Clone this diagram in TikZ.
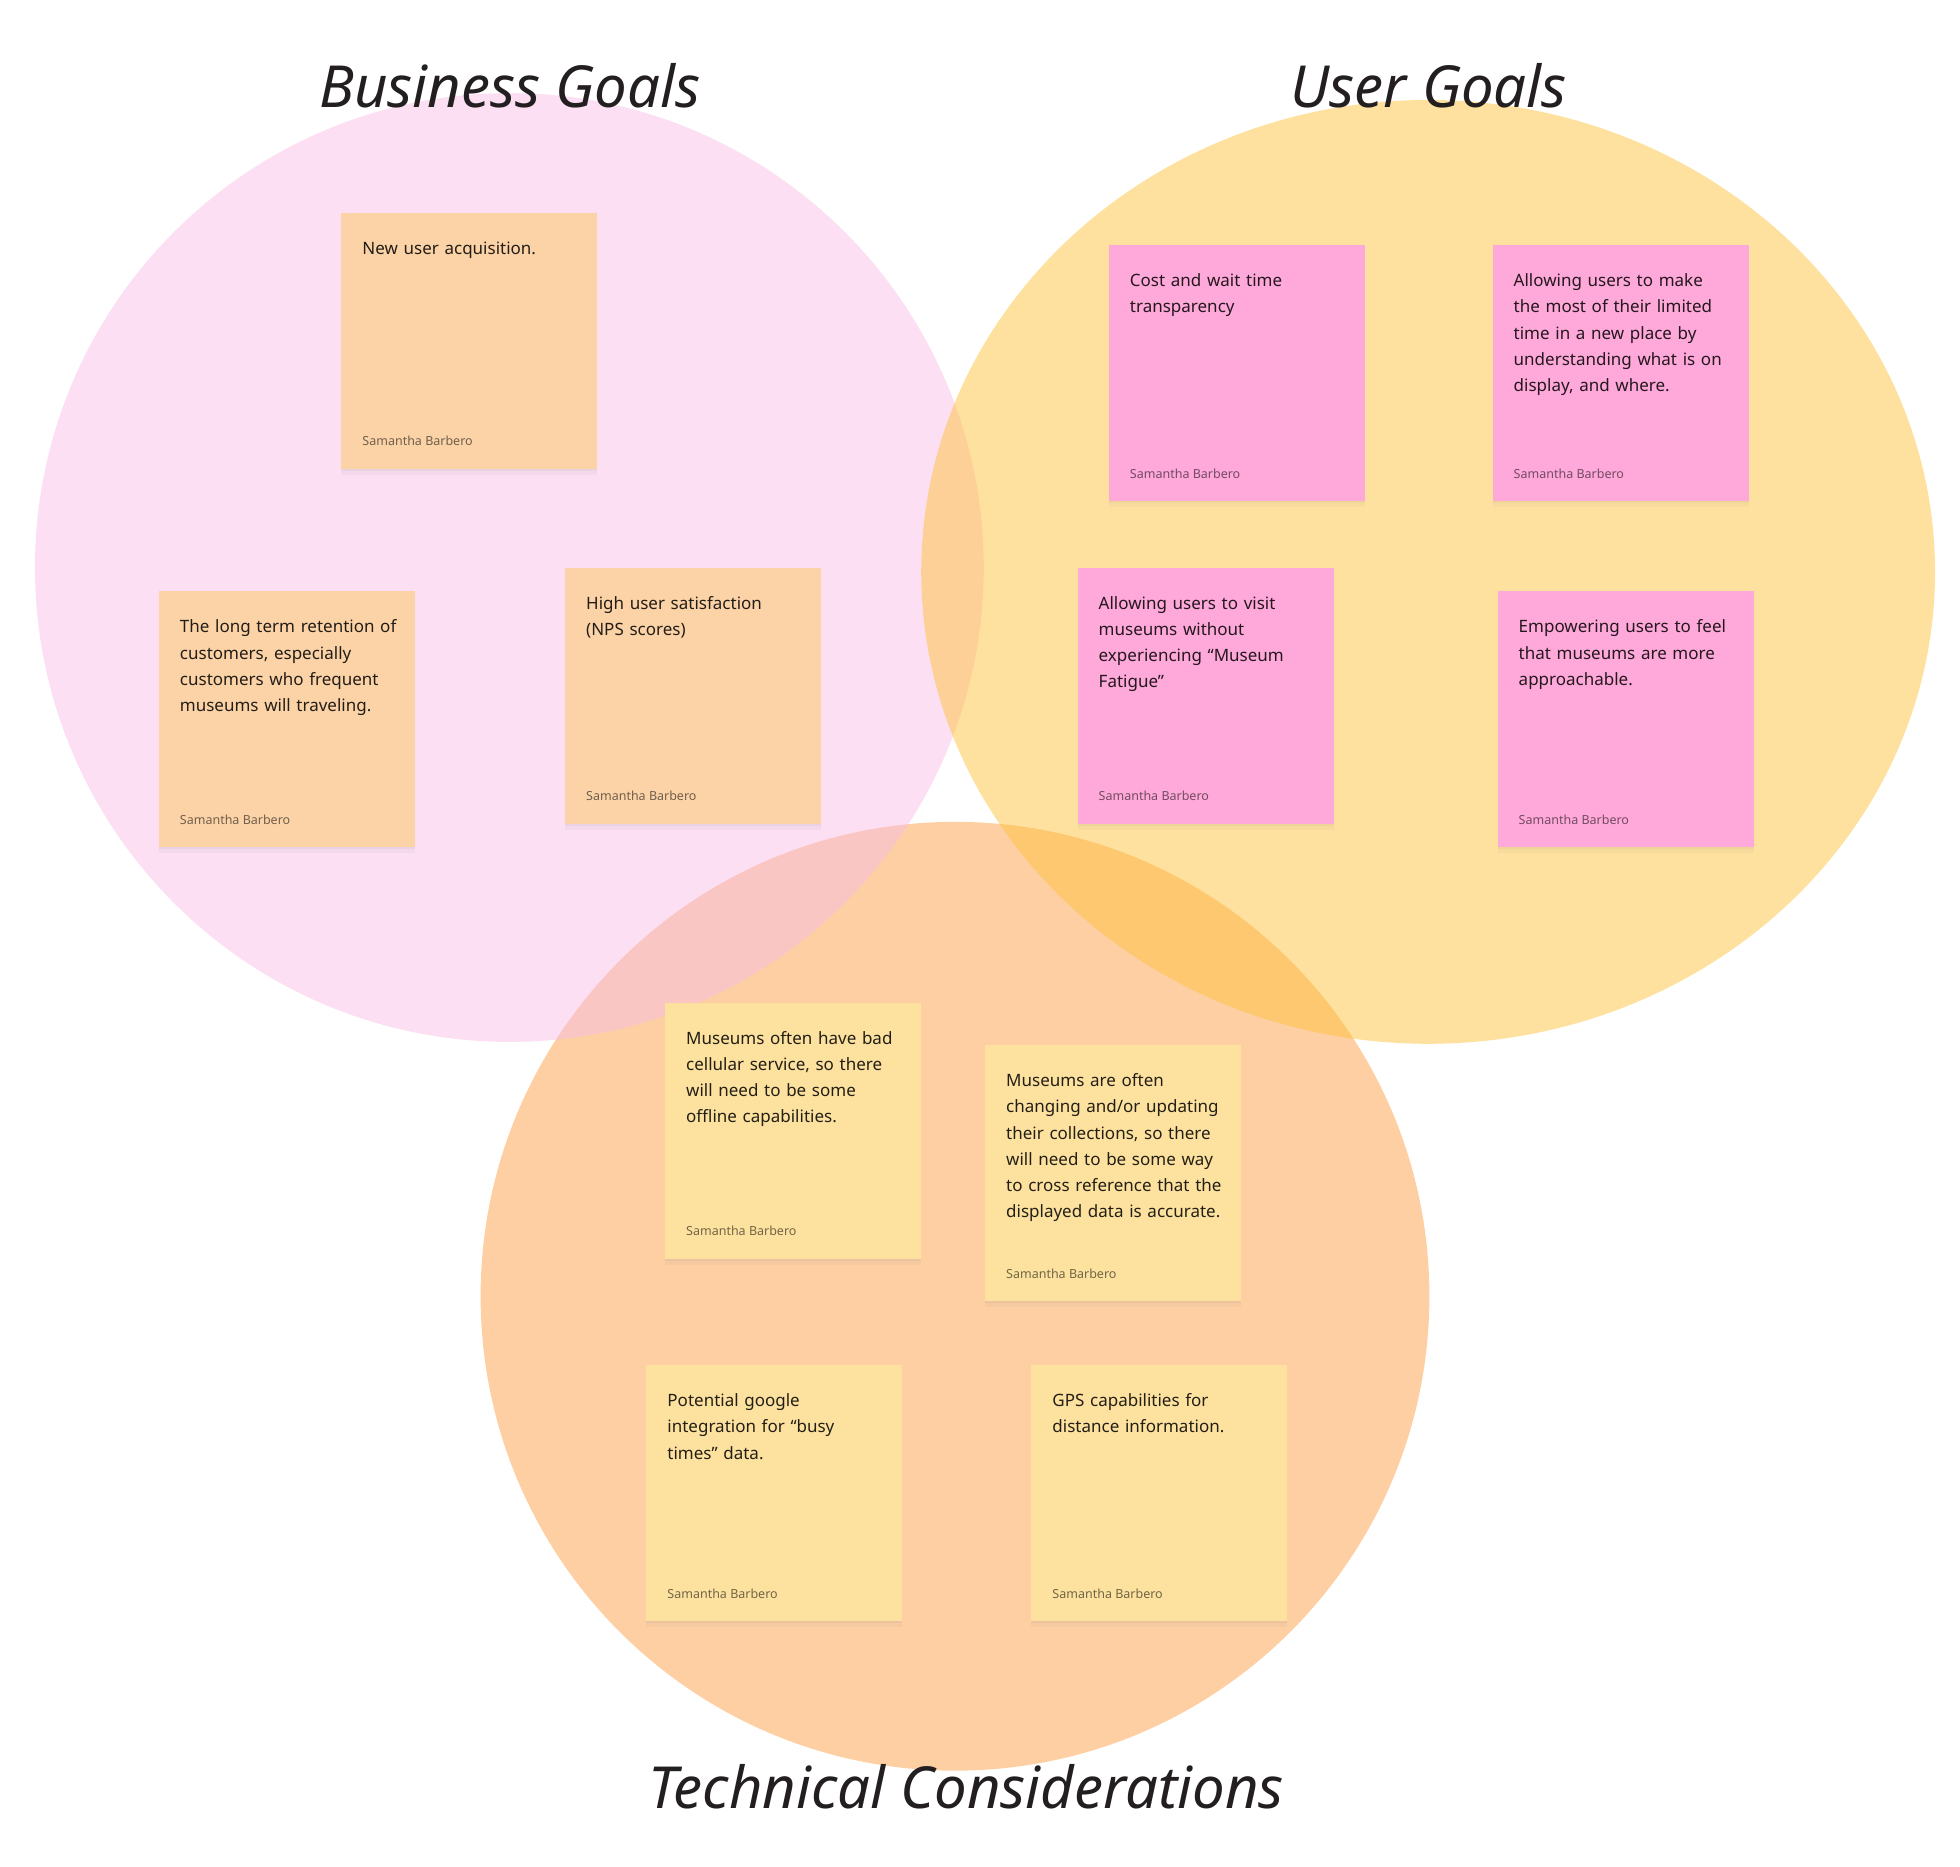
\documentclass[tikz,border=0pt]{standalone}
\usepackage{fontspec}
\setmainfont{Noto Sans}
\newfontfamily\handfont{Noto Sans}
\usepackage{tikz}
\usetikzlibrary{positioning, shadows}
\definecolor{bizpink}{RGB}{249, 191, 231}
\definecolor{useryellow}{RGB}{253, 195, 61}
\definecolor{techorange}{RGB}{253, 207, 162}
\definecolor{peachnote}{RGB}{252, 211, 167}
\definecolor{pinknote}{RGB}{255, 168, 218}
\definecolor{yellownote}{RGB}{253, 225, 158}
\definecolor{inkdark}{RGB}{35, 31, 32}
\tikzstyle{sticky} = [
    rectangle,
    anchor=north west,
    minimum width=256pt,
    minimum height=256pt,
    inner sep=0pt,
    drop shadow={shadow xshift=0pt, shadow yshift=-2pt, opacity=0.08},
    drop shadow={shadow xshift=0pt, shadow yshift=-6pt, opacity=0.06}
]
\tikzstyle{bizsticky} = [sticky, fill=peachnote]
\tikzstyle{usersticky} = [sticky, fill=pinknote]
\tikzstyle{techsticky} = [sticky, fill=yellownote]
\tikzstyle{notetext} = [
    anchor=base west,
    text width=232pt,
    align=left,
    inner sep=0pt,
    text=black,
    text opacity=0.86,
    font=\fontsize{17}{26.25}\selectfont
]
\tikzstyle{author} = [
    anchor=base west,
    inner sep=0pt,
    text=black,
    text opacity=0.55,
    font=\fontsize{12.5}{15}\selectfont
]
\tikzstyle{heading} = [
    anchor=base,
    inner sep=0pt,
    text=inkdark,
    font=\handfont\itshape\fontsize{58}{62}\selectfont
]

\begin{document}
\begin{tikzpicture}[x=1.25pt, y=-1.25pt]
        \useasboundingbox (0, 0) rectangle (1568, 1493);
        % Circles
        \fill[techorange] (764, 1037) circle [radius=474.4pt];
        \fill[bizpink, fill opacity=0.5] (407.5, 454) circle [radius=474.4pt];
        \fill[useryellow, fill opacity=0.5] (1142.5, 457.5) ellipse [x radius=506.9pt, y radius=471.9pt];

        % Titles
        \node[heading] (biztitle) at (408, 85.6) {Business Goals};
        \node[heading] (usertitle) at (1143, 86) {User Goals};
        \node[heading] (techtitle) at (773, 1447) {Technical Considerations};

        % Business goals
        \node[bizsticky] (biz1) at (273, 170) {};
        \node[notetext] (biz1t) at ([xshift=21pt, yshift=-41.7pt]biz1.north west) {New user acquisition.};
        \node[author] (biz1a) at ([xshift=21pt, yshift=23pt]biz1.south west) {Samantha Barbero};

        \node[bizsticky] (biz2) at (127, 473) {};
        \node[notetext] (biz2t) at ([xshift=21pt, yshift=-41.7pt]biz2.north west) {The long term retention of\\customers, especially\\customers who frequent\\museums will traveling.};
        \node[author] (biz2a) at ([xshift=21pt, yshift=23pt]biz2.south west) {Samantha Barbero};

        \node[bizsticky] (biz3) at (452, 454) {};
        \node[notetext] (biz3t) at ([xshift=21pt, yshift=-41.7pt]biz3.north west) {High user satisfaction\\(NPS scores)};
        \node[author] (biz3a) at ([xshift=21pt, yshift=23pt]biz3.south west) {Samantha Barbero};

        % User goals
        \node[usersticky] (user1) at (887, 196) {};
        \node[notetext] (user1t) at ([xshift=21pt, yshift=-41.7pt]user1.north west) {Cost and wait time\\transparency};
        \node[author] (user1a) at ([xshift=21pt, yshift=23pt]user1.south west) {Samantha Barbero};

        \node[usersticky] (user2) at (1194, 196) {};
        \node[notetext] (user2t) at ([xshift=21pt, yshift=-41.7pt]user2.north west) {Allowing users to make\\the most of their limited\\time in a new place by\\understanding what is on\\display, and where.};
        \node[author] (user2a) at ([xshift=21pt, yshift=23pt]user2.south west) {Samantha Barbero};

        \node[usersticky] (user3) at (862, 454) {};
        \node[notetext] (user3t) at ([xshift=21pt, yshift=-41.7pt]user3.north west) {Allowing users to visit\\museums without\\experiencing “Museum\\Fatigue”};
        \node[author] (user3a) at ([xshift=21pt, yshift=23pt]user3.south west) {Samantha Barbero};

        \node[usersticky] (user4) at (1198, 473) {};
        \node[notetext] (user4t) at ([xshift=21pt, yshift=-41.7pt]user4.north west) {Empowering users to feel\\that museums are more\\approachable.};
        \node[author] (user4a) at ([xshift=21pt, yshift=23pt]user4.south west) {Samantha Barbero};

        % Technical considerations
        \node[techsticky] (tech1) at (532, 802) {};
        \node[notetext] (tech1t) at ([xshift=21pt, yshift=-41.7pt]tech1.north west) {Museums often have bad\\cellular service, so there\\will need to be some\\offline capabilities.};
        \node[author] (tech1a) at ([xshift=21pt, yshift=23pt]tech1.south west) {Samantha Barbero};

        \node[techsticky] (tech2) at (788, 836) {};
        \node[notetext] (tech2t) at ([xshift=21pt, yshift=-41.7pt]tech2.north west) {Museums are often\\changing and/or updating\\their collections, so there\\will need to be some way\\to cross reference that the\\displayed data is accurate.};
        \node[author] (tech2a) at ([xshift=21pt, yshift=23pt]tech2.south west) {Samantha Barbero};

        \node[techsticky] (tech3) at (517, 1092) {};
        \node[notetext] (tech3t) at ([xshift=21pt, yshift=-41.7pt]tech3.north west) {Potential google\\integration for “busy\\times” data.};
        \node[author] (tech3a) at ([xshift=21pt, yshift=23pt]tech3.south west) {Samantha Barbero};

        \node[techsticky] (tech4) at (825, 1092) {};
        \node[notetext] (tech4t) at ([xshift=21pt, yshift=-41.7pt]tech4.north west) {GPS capabilities for\\distance information.};
        \node[author] (tech4a) at ([xshift=21pt, yshift=23pt]tech4.south west) {Samantha Barbero};
    \end{tikzpicture}
\end{document}
